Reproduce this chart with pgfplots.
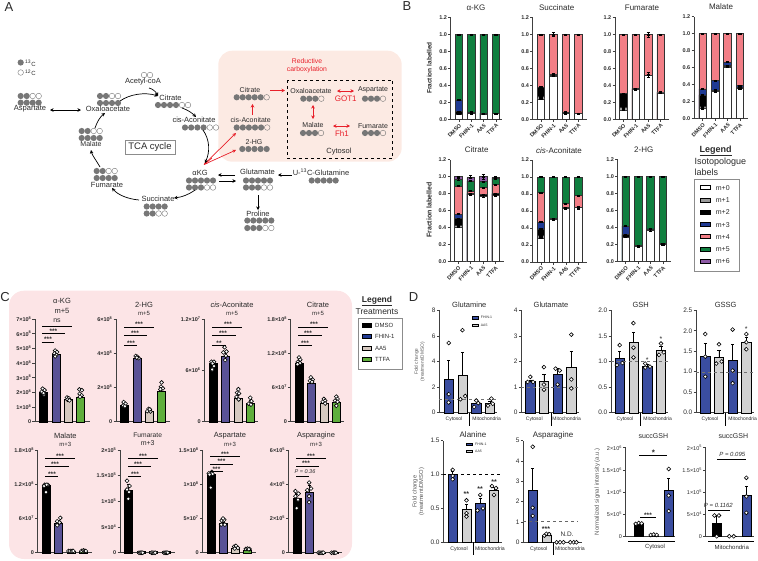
\documentclass[border=0pt]{standalone}
\usepackage{pgfplots}
\pgfplotsset{compat=1.18}
\usepackage{fontspec}
\setmainfont{Liberation Sans}
\usetikzlibrary{arrows.meta}
\definecolor{pinkC}{HTML}{FCE4E6}
\definecolor{peach}{HTML}{FCEAE3}
\definecolor{m1}{HTML}{9A9A9A}
\definecolor{m3}{HTML}{1F3A93}
\definecolor{m4}{HTML}{F27E86}
\definecolor{m5}{HTML}{0F7F3F}
\definecolor{m6}{HTML}{8E5BA6}
\definecolor{cF}{HTML}{5A5296}
\definecolor{cA}{HTML}{D6C9C0}
\definecolor{cT}{HTML}{5FAE3C}
\definecolor{dB}{HTML}{3A4DA0}
\definecolor{dG}{HTML}{D2D2D2}
\definecolor{redA}{HTML}{E8202A}
\definecolor{isoF}{HTML}{777777}
\definecolor{txt}{HTML}{2A2A2A}
\newcommand\fs[1]{\fontsize{#1}{#1}\selectfont}
\newcommand\T[5][]{\node[inner sep=0pt,text=txt,#1] at (#2,#3) {\fs{#4}#5};}
\newcommand\iso[5]{\foreach \i in {1,...,#5}{\pgfmathsetmacro\cx{#1+(\i-1)*#3}\ifnum\i>#4\relax\draw[isoF,line width=.4pt] (\cx,#2) circle[radius=2.8];\else\fill[isoF] (\cx,#2) circle[radius=3.1];\fi}}
\newcommand\sig[4]{\draw[black,line width=.8pt] (#1,#3)--(#2,#3);\T{#4}{#3-2.3}{6.5}{\bfseries ***}}
\newcommand\lin[3]{\draw[black,line width=.8pt] (#1,#3)--(#2,#3);}
\pgfplotsset{
 pan/.code n args={6}{%
  \pgfmathsetmacro\pnA{-(#2-#1)/#3}\pgfmathsetmacro\pnB{(#4-#2)/#3}%
  \pgfmathsetmacro\pnW{#4-#1}\pgfmathsetmacro\pnH{#6-#5}\pgfmathsetmacro\pnY{-#6}%
  \pgfplotsset{at={(#1pt,\pnY pt)},anchor=south west,xmin=\pnA,xmax=\pnB,width=\pnW pt,height=\pnH pt}},
 base/.style={scale only axis,clip=false,axis lines*=left,ymin=0,
  axis line style={black!75,line width=.7pt},
  major tick length=2.5pt,tick style={black!75,line width=.6pt},tick align=outside,
  xtick=\empty,y tick label style={inner sep=1pt,font=\fs{5.5}\bfseries,text=txt},
  /pgf/number format/assume math mode=true},
 bstyle/.style={base,ymax=1.2,ytick={0,.2,.4,.6,.8,1,1.2},yticklabels={0.0,0.2,0.4,0.6,0.8,1.0,1.2},
  xtick={0,1,2,3},xticklabels={DMSO,FHIN-1,AA5,TTFA},
  x tick label style={rotate=45,anchor=north east,inner sep=1pt,font=\fs{5.5}\bfseries,text=txt}},
 dstyle/.style={base,y tick label style={font=\fs{6.5},text=txt}},
}
\def\BW{8pt}
\newcommand\cum[5]{\addplot[ybar,bar shift=0pt,bar width=7.5pt,fill=#1,draw=black!80,line width=.7pt,error bars/.cd,y dir=both,y explicit,error bar style={black,line width=.5pt},error mark options={rotate=90,mark size=1.6pt,black,line width=.5pt}] coordinates {(0,#2) +- (0,.006) (1,#3) +- (0,.006) (2,#4) +- (0,.006) (3,#5) +- (0,.006)};}
\newcommand\eb[3]{\addplot[draw=none,mark=none,error bars/.cd,y dir=both,y explicit,error bar style={black,line width=.5pt},error mark options={rotate=90,mark size=1.6pt,black,line width=.5pt}] coordinates {(#1,#2) +- (0,#3)};}
\newcommand\bbar[4]{\addplot[ybar,bar shift=0pt,bar width=\BW,fill=#4,draw=black,line width=.4pt,error bars/.cd,y dir=plus,y explicit,error bar style={black,line width=.5pt},error mark options={rotate=90,mark size=1.6pt,black,line width=.5pt}] coordinates {(#1,#2) +- (0,#3)};}
\newcommand\pp[1]{\addplot[only marks,mark=*,mark size=1.95pt,mark options={fill=white,draw=black,line width=.6pt}] coordinates {#1};}
\newcommand\refl[3]{\addplot[dashed,black!55,line width=.4pt] coordinates {(#1,#3)(#2,#3)};}
\begin{document}
\begin{tikzpicture}
\useasboundingbox (0pt,0pt) rectangle (758pt,-560pt);
%% ------------------- backgrounds and panel A
\begin{scope}[x=1pt,y=-1pt,
 ar/.style={-{Stealth[length=3.5pt,width=3.5pt]},black,line width=.7pt},
 ard/.style={{Stealth[length=3.5pt,width=3.5pt]}-{Stealth[length=3.5pt,width=3.5pt]},black,line width=.7pt},
 rr/.style={-{Stealth[length=3.5pt,width=3.5pt]},redA,line width=.7pt},
 rd/.style={{Stealth[length=3.5pt,width=3.5pt]}-{Stealth[length=3.5pt,width=3.5pt]},redA,line width=.7pt}]
\fill[pinkC,rounded corners=15pt] (9,290.7) rectangle (352,559);
\fill[peach,rounded corners=14pt] (218.3,50.7) rectangle (401.7,161.7);
\T{9}{7}{13}{A}\T{407}{6}{13}{B}\T{5}{297}{13}{C}\T{413.5}{297}{13}{D}
\iso{20.7}{62.5}{6}{1}{1}\T[anchor=west]{25}{63.5}{6}{\textsuperscript{13}C}
\iso{20.7}{72.5}{6}{0}{1}\T[anchor=west]{25}{73}{6}{\textsuperscript{12}C}
\iso{20.7}{96}{6}{2}{4}\iso{20.7}{102.7}{6}{4}{4}\T{30}{109}{7.5}{Aspartate}
\draw[ard] (50,110)--(81,110);
\iso{100}{96}{6}{2}{4}\iso{100}{103}{6}{4}{4}\T{108}{109}{7.5}{Oxaloacetate}
\iso{144}{75}{6}{0}{2}\T{143}{82}{7.5}{Acetyl-coA}
\T{170.5}{98}{7.5}{Citrate}\iso{158}{105}{6}{4}{6}
\T{194}{120}{7.5}{cis-Aconitate}\iso{185}{127.5}{6.2}{4}{6}
\T{200}{173}{7.5}{αKG}\iso{189}{180.5}{6}{5}{5}\iso{189}{187.5}{6}{3}{5}
\T{158}{199}{7.5}{Succinate}\iso{146.7}{206.5}{6}{4}{4}\iso{146.7}{213.5}{6}{2}{4}
\T{107}{184.7}{7.5}{Fumarate}\iso{96.7}{171}{6}{2}{4}\iso{96.7}{178}{6}{4}{4}
\T{91}{144}{7}{Malate}\iso{81.7}{131}{6}{2}{4}\iso{81.7}{138}{6}{4}{4}
\T{257.5}{172}{7.5}{Glutamate}\iso{246}{180.5}{6}{5}{5}\iso{246}{187.5}{6}{3}{5}
\T{321}{172}{7.5}{U-\textsuperscript{13}C-Glutamine}\iso{311.7}{180.5}{6}{5}{5}
\T{258}{213.5}{7.5}{Proline}\iso{247.3}{220.5}{6}{5}{5}\iso{247.3}{228}{6}{3}{5}
\node[draw=black!45,line width=.8pt,minimum width=50pt,minimum height=14pt,inner sep=0pt,text=txt] at (150,147) {\fs{9.5}TCA cycle};
\T[text=redA]{307}{61}{6.8}{Reductive}\T[text=redA]{307}{70}{6.8}{carboxylation}
\draw[black,dashed,line width=.8pt] (287.3,80) rectangle (392.7,158.3);
\T{250}{90}{7}{Citrate}\iso{236.7}{97.3}{6}{5}{6}
\T{250.7}{120}{7}{cis-Aconitate}\iso{236.7}{127.5}{6.1}{5}{6}
\T{254}{142}{7}{2-HG}\iso{242.3}{149}{6.1}{5}{5}
\T{311}{91}{7}{Oxaloacetate}\iso{303.3}{98.7}{6}{3}{4}
\T{373}{90}{7}{Aspartate}\iso{365}{98.7}{6}{3}{4}
\T{313}{125}{7}{Malate}\iso{303}{133}{6}{3}{4}
\T{373}{126}{7}{Fumarate}\iso{365}{133}{6}{3}{4}
\T{339}{152}{7.5}{Cytosol}
\T[text=redA]{345.7}{99}{8}{GOT1}\T[text=redA]{342}{134}{8}{Fh1}
\draw[rr] (270,90.5)--(285,90.5);\draw[rr] (252.5,115)--(252.5,104);
\draw[rd] (337,91)--(354,91);\draw[rd] (313,105)--(313,119);\draw[rd] (333,126)--(350,126);
\draw[rr] (204,164.5)--(236,133);\draw[rr] (204,164.5)--(236,150);
\draw[rr,{Stealth[length=3.5pt,width=3.5pt]}-] (204,164.5)--(212,158);
\draw[ar] (120,101) .. controls (130,94) and (145,92) .. (158,96);
\draw[ar] (149,88) .. controls (153,89) and (156,92) .. (158,96);
\draw[ar] (182,108) .. controls (188,110) and (192,113) .. (196,117);
\draw[ar] (203,130) .. controls (210,140) and (210,152) .. (205,163);
\draw[ar] (195,190) .. controls (188,195) and (182,197) .. (174,198);
\draw[ar] (139,200) .. controls (128,199) and (118,195) .. (112,188);
\draw[ar] (100,167) .. controls (96,160) and (92,155) .. (91,150);
\draw[ar] (95,128) .. controls (97,122) and (100,117) .. (105,113);
\draw[ar] (235,175)--(218,175);\draw[ar] (219,181)--(236,181);
\draw[ar] (292,175)--(278,175);\draw[ar] (258,195)--(258,210);
\end{scope}
%% ------------------- panel B
\begin{axis}[bstyle,pan={450.7}{459}{12.33}{502}{17.3}{119.3}]
\cum{m5}{1}{1}{1}{1}\cum{m3}{.225}{.085}{.07}{.07}\cum{black}{.09}{.085}{.07}{.07}\cum{white}{.06}{.07}{.06}{.065}
\end{axis}
\begin{axis}[bstyle,pan={532.7}{541}{12.44}{586.7}{17.3}{119.3}]
\cum{m4}{1}{1}{1}{1}\eb{1}{1}{.02}\cum{black}{.38}{.53}{.085}{.07}\cum{m1}{.27}{.51}{.07}{.065}\cum{white}{.24}{.51}{.07}{.065}\eb{1}{.52}{.015}\eb{0}{.25}{.015}
\end{axis}
\begin{axis}[bstyle,pan={615}{623.3}{12.44}{669}{17.3}{119.3}]
\cum{m4}{1}{1}{1}{1}\eb{2}{1}{.03}\cum{black}{.30}{.36}{.52}{.32}\cum{m1}{.14}{.35}{.52}{.31}\cum{white}{.11}{.35}{.52}{.31}\eb{2}{.52}{.03}\eb{0}{.125}{.015}
\end{axis}
\begin{axis}[bstyle,pan={694}{702.7}{12.44}{748}{16.7}{118.7}]
\cum{m4}{1}{1}{1}{1}\cum{m3}{.35}{.45}{.665}{.39}\cum{black}{.28}{.335}{.625}{.365}\cum{m1}{.14}{.32}{.61}{.355}\cum{white}{.12}{.32}{.61}{.355}
\end{axis}
\begin{axis}[bstyle,pan={450}{458.3}{12.44}{504}{159.7}{261.7}]
\cum{m6}{1}{.99}{1}{.995}\eb{1}{1}{.02}\eb{2}{1}{.03}\cum{m5}{.97}{.95}{.94}{.98}\cum{m4}{.89}{.83}{.87}{.91}\cum{m3}{.56}{.80}{.79}{.80}\cum{black}{.51}{.80}{.79}{.80}\cum{m1}{.43}{.79}{.77}{.78}\cum{white}{.41}{.79}{.77}{.78}\eb{0}{.42}{.015}\eb{2}{.775}{.015}\eb{3}{.79}{.015}
\end{axis}
\begin{axis}[bstyle,pan={532.7}{541}{12.44}{586.7}{160}{262}]
\cum{m5}{1}{1}{1}{1}\cum{m4}{.82}{.51}{.69}{.78}\cum{m3}{.47}{.51}{.64}{.64}\cum{black}{.39}{.51}{.64}{.64}\cum{m1}{.31}{.50}{.63}{.64}\cum{white}{.28}{.50}{.63}{.64}\eb{3}{.64}{.02}
\end{axis}
\begin{axis}[bstyle,pan={617.7}{625.7}{12.44}{671}{159.7}{261.7}]
\cum{m5}{1}{1}{1}{1}\cum{m3}{.42}{.19}{.385}{.215}\cum{black}{.32}{.19}{.385}{.215}\cum{white}{.29}{.18}{.37}{.205}
\end{axis}
%% ------------------- panel C
\def\BW{8pt}
\begin{axis}[base,pan={35}{43.3}{12.44}{90}{319}{421.7},ymax=7,ytick={0,1,2,3,4,5,6,7},yticklabels={0,1×10\textsuperscript{8},2×10\textsuperscript{8},3×10\textsuperscript{8},4×10\textsuperscript{8},5×10\textsuperscript{8},6×10\textsuperscript{8},7×10\textsuperscript{8}}]
\bbar{0}{2.0}{.15}{black}\bbar{1}{4.6}{.12}{cF}\bbar{2}{1.5}{.1}{cA}\bbar{3}{1.7}{.15}{cT}
\pp{(-.05,2.25)(.1,2.15)(-.12,2.05)(.05,1.85)(.02,1.95)(.95,4.85)(1.1,4.75)(.9,4.65)(1.05,4.55)(.95,4.45)(1.9,1.65)(2.05,1.6)(1.95,1.5)(2.1,1.45)(2.9,2.2)(3.1,2.15)(2.92,1.9)(3.08,1.8)(2.95,1.7)}
\end{axis}
\begin{axis}[base,pan={116}{124.3}{12.44}{170}{319.3}{421.7},ymax=6,ytick={0,2,4,6},yticklabels={0,2×10\textsuperscript{8},4×10\textsuperscript{8},6×10\textsuperscript{8}}]
\bbar{0}{.95}{.1}{black}\bbar{1}{3.75}{.05}{cF}\bbar{2}{.6}{.05}{cA}\bbar{3}{1.8}{.2}{cT}
\pp{(-.05,1.15)(.1,1.05)(-.1,.95)(.05,.9)(.92,3.85)(1.05,3.8)(1.15,3.72)(1,3.75)(1.85,.62)(2.1,.6)(1.95,.75)(2.05,.72)(3,2.3)(2.95,2.05)(3.1,1.95)(2.9,1.9)}
\end{axis}
\begin{axis}[base,pan={204.3}{212.7}{12.52}{258}{319}{421.7},ymax=12,ytick={0,6,12},yticklabels={0,6×10\textsuperscript{6},1.2×10\textsuperscript{7}}]
\bbar{0}{6.8}{.2}{black}\bbar{1}{7.7}{.4}{cF}\bbar{2}{2.8}{.3}{cA}\bbar{3}{2.2}{.3}{cT}
\pp{(-.1,7)(.1,7)(0,6.8)(.1,6.5)(-.05,6.1)(.95,8.7)(1.1,8.2)(.85,8.1)(1.05,7.7)(1,7.2)(2.05,3.8)(1.95,3.4)(2.1,3.3)(1.9,2.9)(2.08,2.6)(3,2.8)(3.1,2.4)(2.88,2.1)(3.05,2)}
\end{axis}
\begin{axis}[base,pan={290.7}{299}{12.44}{344}{319.3}{421.7},ymax=18,ytick={0,6,12,18},yticklabels={0,6×10\textsuperscript{7},1.2×10\textsuperscript{8},1.8×10\textsuperscript{8}}]
\bbar{0}{10.2}{.3}{black}\bbar{1}{6.8}{.3}{cF}\bbar{2}{3.3}{.3}{cA}\bbar{3}{3.5}{.4}{cT}
\pp{(0,11.3)(.1,10.9)(-.1,10.5)(.08,10.3)(-.12,10.1)(.95,7.8)(1.1,7.4)(.88,7.2)(1.05,7)(2,4)(2.1,3.7)(1.9,3.5)(2.1,3.2)(3,4.4)(3.1,4)(2.9,3.7)(3.1,3.5)(3,2.8)}
\end{axis}
\begin{axis}[base,pan={37.7}{46}{12.44}{91.7}{450}{552.7},ymax=18,ytick={0,6,12,18},yticklabels={0,6×10\textsuperscript{7},1.2×10\textsuperscript{8},1.8×10\textsuperscript{8}}]
\bbar{0}{11.8}{.3}{black}\bbar{1}{5.2}{.5}{cF}\bbar{2}{.25}{.05}{cA}\bbar{3}{.25}{.05}{cT}
\pp{(-.1,11.9)(.15,11.9)(-.15,11.7)(.05,11.9)(0,10.6)(1.15,6.1)(.9,5.5)(1.1,5.3)(.9,4.8)(1.8,.3)(1.95,.3)(2.1,.3)(2.2,.3)(2.85,.3)(3,.4)(3.1,.3)(3.2,.3)}
\end{axis}
\begin{axis}[base,pan={120}{128.3}{12.52}{175}{450}{552.7},ymax=2,ytick={0,.5,1,1.5,2},yticklabels={0,5×10\textsuperscript{4},1×10\textsuperscript{5},1.5×10\textsuperscript{5},2×10\textsuperscript{5}}]
\bbar{0}{1.22}{.12}{black}\bbar{1}{.02}{0}{cF}\bbar{2}{.02}{0}{cA}\bbar{3}{.02}{0}{cT}
\pp{(-.1,1.4)(.1,1.3)(-.1,1.23)(.05,1.18)(0,1.05)(.85,.0)(.95,.0)(1.05,.0)(1.15,.0)(1.85,.0)(1.95,0)(2.05,0)(2.15,0)(2.85,0)(2.95,0)(3.05,0)(3.15,0)}
\end{axis}
\begin{axis}[base,pan={202.3}{210.7}{12.33}{255.7}{450}{552.7},ymax=15,ytick={0,5,10,15},yticklabels={0,5×10\textsuperscript{7},1×10\textsuperscript{8},1.5×10\textsuperscript{8}}]
\bbar{0}{11.5}{.3}{black}\bbar{1}{4.3}{.2}{cF}\bbar{2}{.7}{.1}{cA}\bbar{3}{.4}{.05}{cT}
\pp{(-.15,11.6)(.1,11.8)(.15,11.5)(-.1,11.4)(0,9.5)(.9,4.7)(1.1,4.8)(1,5)(.85,4.1)(1.15,4.1)(1.9,.9)(2.05,1)(2.2,.7)(1.95,.6)(2.85,.55)(3,.6)(3.15,.55)(3.1,.5)}
\end{axis}
\begin{axis}[base,pan={288.7}{296.7}{12.44}{342.3}{450}{552.7},ymax=6,ytick={0,2,4,6},yticklabels={0,2×10\textsuperscript{5},4×10\textsuperscript{5},6×10\textsuperscript{5}}]
\bbar{0}{3.2}{.3}{black}\bbar{1}{3.55}{.4}{cF}\bbar{2}{.02}{0}{cA}\bbar{3}{.02}{0}{cT}
\pp{(-.1,3.6)(.15,3.45)(-.1,3.3)(.1,3.1)(0,2.6)(1,4.1)(.85,3.65)(1.15,3.75)(1,3.3)(1,2.95)(1.75,0)(1.85,0)(1.95,0)(2.05,0)(2.15,0)(2.8,0)(2.95,0)(3.05,0)(3.15,0)}
\end{axis}
%% ------------------- panel D
\def\BW{9.3pt}
\begin{axis}[dstyle,pan={439.3}{448.7}{13.77}{497.3}{310.3}{412.7},ymax=8,ytick={0,2,4,6,8},yticklabels={0,2,4,6,8}]
\bbar{0}{2.6}{1.47}{dB}\bbar{1}{2.95}{1.75}{dG}\bbar{2}{.75}{.2}{dB}\bbar{3}{.75}{.15}{dG}
\refl{-.68}{3.5}{1.05}
\pp{(0,5.45)(0,1.45)(0,.8)(1,6.45)(.85,1.05)(1.2,1.3)(2,.95)(1.85,.45)(2.15,.75)(3.1,1.1)(2.85,.55)(3.2,.7)}
\end{axis}
\begin{axis}[dstyle,pan={521.3}{530.3}{13.67}{579.3}{310.3}{412.7},ymax=4,ytick={0,1,2,3,4},yticklabels={0,1,2,3,4}]
\bbar{0}{1.25}{.03}{dB}\bbar{1}{1.25}{.27}{dG}\bbar{2}{1.5}{.25}{dB}\bbar{3}{1.77}{.65}{dG}
\refl{-.66}{3.6}{1}
\pp{(0,1.4)(-.2,1.2)(.2,1.2)(1,1.78)(1,1.1)(1,.9)(1.85,1.72)(2.15,1.65)(2,1.1)(3,3.05)(3,1.3)(3,.95)}
\end{axis}
\begin{axis}[dstyle,pan={611}{619.7}{13.77}{668.3}{310.3}{412.7},ymax=2,ytick={0,.5,1,1.5,2},yticklabels={0.0,0.5,1.0,1.5,2.0}]
\bbar{0}{1.06}{.14}{dB}\bbar{1}{1.37}{.21}{dG}\bbar{2}{.9}{.04}{dB}\bbar{3}{1.22}{.07}{dG}
\refl{-.63}{3.5}{1}
\pp{(0,1.32)(.2,.97)(-.2,.93)(1,1.75)(1,1.27)(1,1.08)(1.85,.96)(1.85,.88)(2.2,.9)(3,1.35)(3.2,1.18)(2.85,1.13)}
\end{axis}
\begin{axis}[dstyle,pan={696}{705.3}{13.67}{754}{310.3}{412.7},ymax=2.5,ytick={0,.5,1,1.5,2,2.5},yticklabels={0.0,0.5,1.0,1.5,2.0,2.5}]
\bbar{0}{1.39}{.3}{dB}\bbar{1}{1.36}{.16}{dG}\bbar{2}{1.27}{.39}{dB}\bbar{3}{1.73}{.11}{dG}
\refl{-.68}{3.6}{1}
\pp{(0,1.92)(0,1.37)(0,.88)(1,1.67)(.8,1.2)(1.2,1.25)(2,2.03)(2,1.03)(2,.72)(3,1.92)(3,1.72)(3,1.55)}
\end{axis}
\begin{axis}[dstyle,pan={443.3}{452.7}{13.77}{501.7}{440.7}{542.3},ymax=1.5,ytick={0,.5,1,1.5},yticklabels={0.0,0.5,1.0,1.5}]
\bbar{0}{1}{.05}{dB}\bbar{1}{.49}{.07}{dG}\bbar{2}{.57}{.08}{dB}\bbar{3}{.77}{.04}{dG}
\addplot[dashed,black,line width=.35pt] coordinates {(-.68,1)(3.4,1)};
\pp{(0,1.07)(0,.98)(0,.93)(1,.62)(1,.43)(1,.38)(2,.7)(2.2,.5)(1.8,.47)(2.85,.83)(3.15,.8)(3,.7)}
\end{axis}
\begin{axis}[dstyle,pan={523.3}{532.7}{13.67}{582.3}{440.7}{542.3},ymax=5,ytick={0,1,2,3,4,5},yticklabels={0,1,2,3,4,5}]
\bbar{0}{2.58}{1.07}{dB}\bbar{1}{.37}{.05}{dG}\bbar{2}{.01}{0}{dB}\bbar{3}{.01}{0}{dG}
\addplot[dashed,black!60,line width=.35pt] coordinates {(-.68,1.05)(3.3,1.05)};
\pp{(0,4.7)(0,1.7)(0,1.3)(.85,.33)(1,.42)(1.2,.4)(1.75,0)(2,0)(2.25,0)(2.75,0)(3,0)(3.2,0)}
\end{axis}
\begin{axis}[dstyle,y tick label style={font=\fs{5.5},text=txt},pan={625.7}{638.7}{15}{675}{447.7}{536.3},ymax=2,ytick={0,.5,1,1.5,2},yticklabels={0,5×10\textsuperscript{5},1×10\textsuperscript{6},1.5×10\textsuperscript{6},2×10\textsuperscript{6}}]
\bbar{0}{.28}{.02}{black}\bbar{1}{.01}{0}{black}\bbar{2}{1.03}{.28}{dB}
\pp{(-.2,.28)(0,.3)(.2,.29)(.8,.03)(1,.04)(1.2,.03)(2,1.52)(2,.92)(2,.57)}
\end{axis}
\begin{axis}[dstyle,y tick label style={font=\fs{5.5},text=txt},pan={705.7}{716.7}{14.83}{754}{447.7}{536.3},ymax=2,ytick={0,.5,1,1.5,2},yticklabels={0,5×10\textsuperscript{4},1×10\textsuperscript{5},1.5×10\textsuperscript{5},2×10\textsuperscript{5}}]
\bbar{0}{.3}{.17}{black}\bbar{1}{.01}{0}{black}\bbar{2}{.92}{.22}{dB}
\pp{(-.15,.47)(.15,.47)(0,0)(.85,0)(1.15,0)(2,1.32)(2,.9)(2,.53)}
\end{axis}
%% ------------------- titles, annotations, legends
\begin{scope}[x=1pt,y=-1pt]
% B titles
\T{476}{8}{8}{α-KG}\T{556.7}{8}{8}{Succinate}\T{642}{8}{8}{Fumarate}\T{721}{7}{8}{Malate}
\T{476.7}{150}{8}{Citrate}\T{559}{150.7}{8}{\textit{cis}-Aconitate}\T{643.7}{150}{8}{2-HG}
\T[rotate=90]{429.3}{68}{6.5}{\bfseries Fraction labelled}
\T[rotate=90]{429}{210}{7}{\bfseries Fraction labelled}
% B legend
\T{715.7}{151}{9}{\bfseries\underline{Legend}}
\T[anchor=west]{694.3}{161.7}{9}{Isotopologue}\T[anchor=west]{694.3}{172.7}{9}{labels}
\draw[black!45,line width=.7pt] (694.3,179.3) rectangle (739.3,271.7);
\foreach \yy/\cc/\lbl in {187.7/white/m+0,200/m1/m+1,212.3/black/m+2,224.7/m3/m+3,236.7/m4/m+4,249/m5/m+5,261.3/m6/m+6}{
 \draw[fill=\cc,draw=black,line width=.6pt] (700.7,\yy-2) rectangle (710,\yy+2);
 \T[anchor=west]{715.7}{\yy}{7}{\lbl}}
% C titles
\T{62}{301}{7.5}{α-KG}\T{62}{311}{7.5}{m+5}
\T{144}{305}{7.5}{2-HG}\T{144}{313.5}{6}{m+5}
\T{232}{305}{7.5}{\textit{cis}-Aconitate}\T{232}{313.5}{6}{m+5}
\T{318}{305}{7.5}{Citrate}\T{318}{313.5}{6}{m+5}
\T{65.3}{436}{7.5}{Malate}\T{65.3}{444.7}{6}{m+3}
\T{147.7}{435}{6.7}{Fumarate}\T{147.7}{443}{7}{m+3}
\T{230}{436}{7.5}{Aspartate}\T{230}{444.7}{6}{m+3}
\T{316}{436}{7.5}{Asparagine}\T{316}{444.7}{6}{m+3}
% C significance
\lin{42.3}{71.7}{326}\T{57}{321}{7}{ns}
\sig{42}{65.3}{333.3}{53.3}\sig{41.7}{54.3}{342}{48}
\sig{124}{154}{327}{139}\sig{124}{147}{335.7}{135}\sig{124}{137}{345.3}{131}
\sig{212.3}{242.3}{327}{228}\sig{212.3}{235.7}{335.7}{223}\lin{212.3}{225.7}{345.3}\T{219}{343}{6.5}{\bfseries **}
\sig{298.3}{328.3}{327}{314}\sig{298.3}{321.7}{335.7}{308}\sig{298.3}{311.7}{345.3}{305}
\sig{45}{75.3}{458.3}{60}\sig{45}{68.7}{466.7}{55}\sig{45}{58.3}{476.3}{52}
\sig{128.3}{157.7}{458.3}{143}\sig{128.3}{151}{466.7}{138}\sig{128.3}{140.7}{476.3}{135}
\sig{210}{240}{456.7}{225}\sig{210}{233.3}{464}{221.5}\sig{210}{222.7}{471.7}{216.5}
\sig{296}{326}{458.3}{311}\sig{296}{319.3}{466}{306}\lin{296}{308.7}{476.3}\T{305}{471.5}{5.5}{\textit{P = 0.36}}
% C legend
\T{377}{301}{8.5}{\bfseries\underline{Legend}}\T{377}{312}{8.5}{Treatments}
\draw[black!45,line width=.7pt,fill=white] (358,318.3) rectangle (402.7,369);
\foreach \yy/\cc/\lbl in {325.7/black/DMSO,336.7/m3/FHIN-1,348/cA/AA5,359/cT/TTFA}{
 \draw[fill=\cc,draw=black,line width=.6pt] (362,\yy-2) rectangle (371,\yy+2);
 \T[anchor=west]{375}{\yy}{6}{\lbl}}
% D titles and labels
\T{469.3}{305}{7.5}{Glutamine}\T{551}{305}{7.5}{Glutamate}\T{640.7}{305}{7.5}{GSH}\T{725.7}{305}{7.5}{GSSG}
\T{473}{435}{8}{Alanine}\T{553}{435}{8}{Asparagine}\T{653.3}{436}{7}{succGSH}\T{733.3}{436}{7}{succGSH}
\foreach \xa/\xb/\xc in {454/486.7/469.3,534.3/566.7/551,625/657.7/640.7,710/742.7/725.7}{
 \T{\xa}{419}{5}{Cytosol}\T{\xb}{419}{5}{Mitochondria}\draw[black,line width=.6pt] (\xc,412.7)--(\xc,425.7);}
\foreach \xa/\xb/\xc in {459/490/473,538.7/570/553}{
 \T{\xa}{548.7}{5.2}{Cytosol}\T{\xb}{548.7}{5.2}{Mitochondria}\draw[black,line width=.6pt] (\xc,542.3)--(\xc,555);}
\T[rotate=90,text=black!65]{416.7}{361.7}{4.8}{Fold change}\T[rotate=90,text=black!65]{422.7}{361.7}{4.8}{(treatment/DMSO)}
\T[rotate=90,text=black!65]{415}{491.7}{5.8}{Fold change}\T[rotate=90,text=black!65]{421.7}{491.7}{5.8}{(treatment/DMSO)}
\T[rotate=90,text=black!65]{597.3}{491.7}{6}{Normalized signal intensity (a.u.)}
% D small legends
\draw[fill=dB,draw=black,line width=.3pt] (471.7,316.4) rectangle (478.3,319);\T[anchor=west]{480.7}{317.7}{3.5}{FHIN-1}
\draw[fill=dG,draw=black,line width=.3pt] (471.7,323.7) rectangle (478.3,326.3);\T[anchor=west]{480.7}{325}{3.5}{AA5}
\draw[fill=dB,draw=black,line width=.3pt] (466,442.7) rectangle (471.7,445.3);\T[anchor=west]{475}{444}{3.5}{FHIN-1}
\draw[fill=dG,draw=black,line width=.3pt] (466,450) rectangle (471.7,452.6);\T[anchor=west]{475}{451.3}{3.5}{AA5}
% D stars
\T{647.3}{360}{7}{*}\T{661}{339}{7}{*}\T{746.3}{329}{7}{*}
\T{466.3}{494.5}{7}{\bfseries **}\T{480}{489.5}{7}{\bfseries **}\T{494}{482}{7}{\bfseries **}
\T{546}{529}{7}{\bfseries ***}\T{567}{534}{6.5}{N.D.}
\draw[black,line width=.7pt] (628,541)--(675,541);\T{655}{547}{6}{Cytosol}
\draw[black,line width=.7pt] (708,541)--(754,541);\T{731.7}{547}{6}{Mitochondria}
\lin{639.3}{666.7}{455.7}\T{653.3}{452.5}{8}{\bfseries *}
\lin{640}{656}{517.3}\T{648}{515}{6.5}{\bfseries ***}
\lin{717.3}{746}{459}\T{732.3}{454}{6}{\textit{P = 0.095}}
\lin{708.3}{730}{510.7}\T{718.3}{505.7}{6}{\textit{P = 0.1162}}
\end{scope}
\end{tikzpicture}
\end{document}
